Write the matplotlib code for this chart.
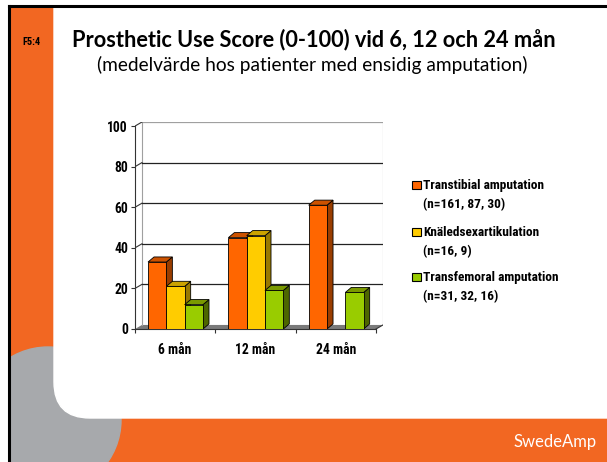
import numpy as np
import matplotlib
matplotlib.use("Agg")
import matplotlib.pyplot as plt
from matplotlib import font_manager
from matplotlib.patches import Polygon, Rectangle, FancyBboxPatch, Circle

# data
categories = ["6 mån", "12 mån", "24 mån"]
series_names = ["Transtibial amputation", "Knäledsexartikulation", "Transfemoral amputation"]
series_n = ["(n=161, 87, 30)", "(n=16, 9)", "(n=31, 32, 16)"]
transtibial = [33, 45, 61]
knaled = [21, 46, np.nan]
transfemoral = [12, 19, 18]
yticks = [0, 20, 40, 60, 80, 100]

front_cols = ["#FF6600", "#FFCC00", "#99CC00"]
top_cols = ["#CC5200", "#CCA300", "#7A9900"]
side_cols = ["#993D00", "#997A00", "#4D6600"]

# narrow bold font for chart labels (Calibri-like), whatever is around
have = {f.name for f in font_manager.fontManager.ttflist}
narrow = dict(family=["DejaVu Sans"], stretch="condensed")
for nm in ["Liberation Sans Narrow", "Roboto Condensed", "Open Sans Condensed"]:
    if nm in have:
        narrow = dict(family=[nm, "DejaVu Sans"])
        break

W, H = 607, 462
fig = plt.figure(figsize=(W / 100, H / 100), dpi=100)

# slide background
bg = fig.add_axes([0, 0, 1, 1])
bg.set_xlim(0, W)
bg.set_ylim(H, 0)
bg.axis("off")
bg.add_patch(Rectangle((9, 6), W, H, color="#F26722", zorder=0))
bg.add_patch(Circle((48, 420), 73, color="#A7A9AC", zorder=1))
bg.add_patch(FancyBboxPatch((54 + 36, 7 - 40), W, 418 - 7 + 40 - 36,
                            boxstyle="round,pad=36", color="white", zorder=2))
bg.add_patch(Rectangle((0, 0), 9, H, color="white", zorder=3))
bg.add_patch(Rectangle((0, 0), W, 6, color="white", zorder=3))
bg.plot([9, 9], [6, H], color="black", lw=2.2, zorder=4)
bg.plot([9, W], [6, 6], color="black", lw=2.2, zorder=4)

bg.text(31, 42, "F5:4", fontsize=7.5, fontweight="bold", ha="center", va="center",
        zorder=5, **narrow)
bg.text(314, 40, "Prosthetic Use Score (0-100) vid 6, 12 och 24 mån", fontsize=15.7,
        fontweight="bold", ha="center", va="center", family=["Lato", "DejaVu Sans"], zorder=5)
bg.text(312, 65, "(medelvärde hos patienter med ensidig amputation)", fontsize=13.8,
        ha="center", va="center", family=["Lato", "DejaVu Sans"], zorder=5)
bg.text(597, 442, "SwedeAmp", fontsize=12, color="white", ha="right", va="center",
        family=["Lato", "DejaVu Sans"], zorder=5)

# legend
leg_y = [185, 232, 277]
for i in range(3):
    bg.add_patch(Rectangle((412, leg_y[i] - 4.5), 8.5, 8.5, facecolor=front_cols[i],
                           edgecolor="black", lw=0.8, zorder=5))
    bg.text(423, leg_y[i], series_names[i], fontsize=9.6, fontweight="bold", va="center",
            zorder=5, **narrow)
    bg.text(423, leg_y[i] + 20, series_n[i], fontsize=9.6, fontweight="bold", va="center",
            zorder=5, **narrow)

# chart
dx, dy = 0.087, 2.0
x0, x1, y0, y1 = 135, 383, 329, 122
ax = fig.add_axes([x0 / W, (H - y0) / H, (x1 - x0) / W, (y0 - y1) / H])
ax.set_xlim(0, 3 + dx)
ax.set_ylim(0, 100 + dy)
ax.patch.set_alpha(0)
for s in ["top", "right"]:
    ax.spines[s].set_visible(False)
ax.spines["left"].set_bounds(0, 100)
ax.spines["bottom"].set_bounds(0, 3)
ax.spines["left"].set_color("#333333")
ax.spines["bottom"].set_color("#333333")

# walls and floor
ax.add_patch(Polygon([(0, 0), (dx, dy), (3 + dx, dy), (3, 0)], closed=True,
                     facecolor="#7A7A7A", edgecolor="none", zorder=1))
ax.plot([dx, dx], [dy, 100 + dy], color="#A0A0A0", lw=0.8, zorder=1)
ax.plot([3 + dx, 3 + dx], [dy, 100 + dy], color="#A0A0A0", lw=0.8, zorder=1)
for v in yticks[1:]:
    c = "#A0A0A0" if v == 100 else "#222222"
    ax.plot([dx, 3 + dx], [v + dy, v + dy], color=c, lw=0.9, zorder=1)
    ax.plot([0, dx], [v, v + dy], color="#333333", lw=0.8, zorder=1)
ax.plot([3, 3 + dx], [0, dy], color="#333333", lw=0.8, zorder=1)

ax.set_yticks(yticks)
ax.set_yticklabels([str(v) for v in yticks], fontsize=9.8, fontweight="bold", **narrow)
ax.set_xticks([0, 1, 2, 3])
ax.set_xticklabels([])
ax.set_xticks([0.5, 1.5, 2.5], minor=True)
ax.set_xticklabels(categories, minor=True, fontsize=9.8, fontweight="bold", **narrow)
ax.tick_params(axis="x", which="minor", length=0, pad=10)
ax.tick_params(axis="both", which="major", length=3, width=0.8, color="#333333", pad=2)

# 3D-looking bars
bw = 0.228
offsets = [-0.228, 0.0, 0.228]
all_vals = [transtibial, knaled, transfemoral]
bdx, bdy = 0.075, 2.5
for si, vals in enumerate(all_vals):
    for ci, v in enumerate(vals):
        if np.isnan(v):
            continue
        xl = ci + 0.504 + offsets[si] - bw / 2
        xr = xl + bw
        z = 3 + si
        ax.add_patch(Polygon([(xr, 0), (xr + bdx, bdy), (xr + bdx, v + bdy), (xr, v)],
                             closed=True, facecolor=side_cols[si], edgecolor="black",
                             lw=0.6, zorder=z))
        ax.add_patch(Polygon([(xl, v), (xl + bdx, v + bdy), (xr + bdx, v + bdy), (xr, v)],
                             closed=True, facecolor=top_cols[si], edgecolor="black",
                             lw=0.6, zorder=z))
        ax.bar(xl, v, width=bw, align="edge", color=front_cols[si], edgecolor="black",
               lw=0.6, zorder=z)

fig.savefig("out.png", dpi=100)
